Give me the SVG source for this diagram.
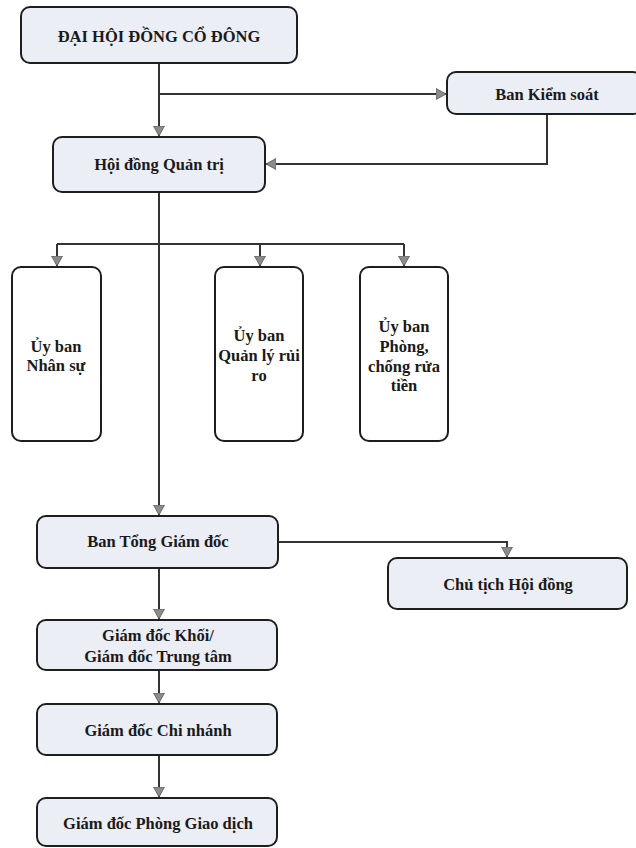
<svg xmlns="http://www.w3.org/2000/svg" width="636" height="848" viewBox="0 0 636 848">
<defs>
<marker id="arr" markerUnits="userSpaceOnUse" markerWidth="14" markerHeight="14" refX="10" refY="6" orient="auto">
<path d="M0,0.5 L10,6 L0,11.5 Z" fill="#8c8c8c" stroke="#555" stroke-width="0.8"/>
</marker>
<style>
.box{fill:#eceef5;stroke:#1e1e1e;stroke-width:2}
.cbox{fill:#ffffff;stroke:#1e1e1e;stroke-width:2}
.t{font-family:"Liberation Serif","Times New Roman",serif;font-weight:bold;font-size:16.5px;fill:#1a1a1a;text-anchor:middle}
.c{fill:none;stroke:#333;stroke-width:2}
</style>
</defs>
<rect width="636" height="848" fill="#ffffff"/>
<g id="connectors">
<path class="c" d="M159,63 V136" marker-end="url(#arr)"/>
<path class="c" d="M159,94 H446" marker-end="url(#arr)"/>
<path class="c" d="M547,114 V164 H266" marker-end="url(#arr)"/>
<path class="c" d="M159,192 V515" marker-end="url(#arr)"/>
<path class="c" d="M57,244 H404"/>
<path class="c" d="M57,244 V266" marker-end="url(#arr)"/>
<path class="c" d="M260,244 V266" marker-end="url(#arr)"/>
<path class="c" d="M404,244 V266" marker-end="url(#arr)"/>
<path class="c" d="M278,542 H507 V557" marker-end="url(#arr)"/>
<path class="c" d="M159,568 V619" marker-end="url(#arr)"/>
<path class="c" d="M159,670 V703" marker-end="url(#arr)"/>
<path class="c" d="M159,755 V797" marker-end="url(#arr)"/>
</g>
<g id="dhcd">
<rect class="box" x="21" y="7" width="276" height="56" rx="9"/>
<text class="t" x="159" y="42">ĐẠI HỘI ĐỒNG CỔ ĐÔNG</text>
</g>
<g id="bks">
<rect class="box" x="447" y="72" width="195" height="42" rx="9"/>
<text class="t" x="547" y="100">Ban Kiểm soát</text>
</g>
<g id="hdqt">
<rect class="box" x="53" y="137" width="212" height="55" rx="9"/>
<text class="t" x="159" y="170">Hội đồng Quản trị</text>
</g>
<g id="ub-ns">
<rect class="cbox" x="12" y="267" width="89" height="174" rx="9"/>
<text class="t" x="56" y="352">Ủy ban</text>
<text class="t" x="56" y="371">Nhân sự</text>
</g>
<g id="ub-ql">
<rect class="cbox" x="215" y="267" width="88" height="174" rx="9"/>
<text class="t" x="259" y="341">Ủy ban</text>
<text class="t" x="259" y="361">Quản lý rủi</text>
<text class="t" x="259" y="381">ro</text>
</g>
<g id="ub-pc">
<rect class="cbox" x="360" y="267" width="88" height="174" rx="9"/>
<text class="t" x="404" y="332">Ủy ban</text>
<text class="t" x="404" y="352">Phòng,</text>
<text class="t" x="404" y="372">chống rửa</text>
<text class="t" x="404" y="391">tiền</text>
</g>
<g id="btgd">
<rect class="box" x="37" y="516" width="241" height="52" rx="9"/>
<text class="t" x="158" y="547">Ban Tổng Giám đốc</text>
</g>
<g id="cthd">
<rect class="box" x="388" y="558" width="239" height="51" rx="9"/>
<text class="t" x="508" y="590">Chủ tịch Hội đồng</text>
</g>
<g id="gdk">
<rect class="box" x="37" y="620" width="240" height="50" rx="9"/>
<text class="t" x="158" y="641">Giám đốc Khối/</text>
<text class="t" x="158" y="662">Giám đốc Trung tâm</text>
</g>
<g id="gdcn">
<rect class="box" x="37" y="704" width="240" height="51" rx="9"/>
<text class="t" x="158" y="736">Giám đốc Chi nhánh</text>
</g>
<g id="gdpgd">
<rect class="box" x="37" y="798" width="240" height="48" rx="9"/>
<text class="t" x="158" y="829">Giám đốc Phòng Giao dịch</text>
</g>
</svg>
